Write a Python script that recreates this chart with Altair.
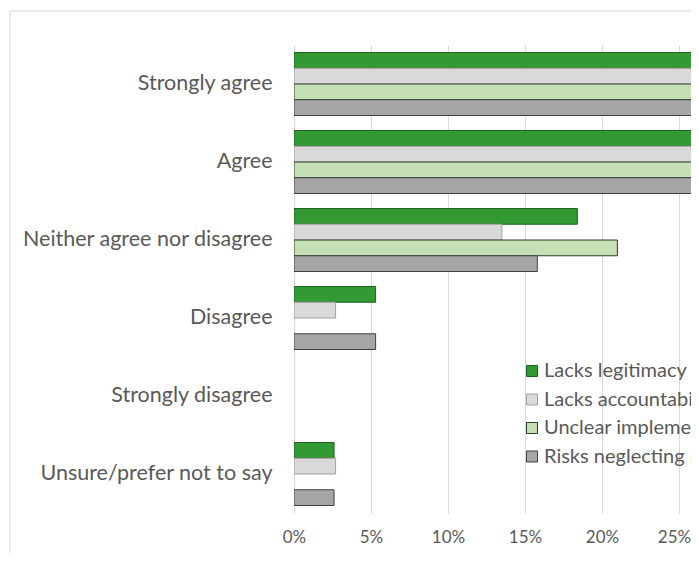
import altair as alt
import pandas as pd

categories = ["Strongly agree", "Agree", "Neither agree nor disagree",
              "Disagree", "Strongly disagree", "Unsure/prefer not to say"]
series = ["Lacks legitimacy", "Lacks accountability",
          "Unclear implementation", "Risks neglecting rural areas"]
lacks_legitimacy = [39.5, 34.2, 18.4, 5.3, 0.0, 2.6]
lacks_accountability = [43.2, 37.8, 13.5, 2.7, 0.0, 2.7]
unclear_implementation = [39.5, 39.5, 21.0, 0.0, 0.0, 0.0]
risks_neglecting = [42.1, 34.2, 15.8, 5.3, 0.0, 2.6]
x_ticks = [0, 5, 10, 15, 20, 25]

fills = ["#339933", "#d9d9d9", "#c5e0b4", "#a6a6a6"]
strokes = ["#1f5f1f", "#a0a0a0", "#2b3f2b", "#404040"]

rows = []
for s, vals in zip(series, [lacks_legitimacy, lacks_accountability,
                            unclear_implementation, risks_neglecting]):
    for c, v in zip(categories, vals):
        rows.append({"category": c, "series": s, "value": v})
df = pd.DataFrame(rows)

FONT = "Lato"
TXT = "#595959"

legend_opts = dict(title=None, orient="none", legendX=228, legendY=316,
                   symbolType="square", symbolSize=121, symbolStrokeWidth=1,
                   labelFontSize=20, labelColor=TXT, labelFont=FONT,
                   rowPadding=8.5, labelOffset=2, padding=0, labelLimit=600)

bars = alt.Chart(df).transform_filter("datum.value > 0").mark_bar(
    clip=True, strokeWidth=1
).encode(
    y=alt.Y("category:N", sort=categories,
            scale=alt.Scale(domain=categories, paddingInner=0.192, paddingOuter=0.096),
            axis=alt.Axis(title=None, ticks=False, domain=False, labelPadding=22,
                          labelFontSize=21.5, labelColor=TXT, labelFont=FONT,
                          labelLimit=400, grid=False)),
    yOffset=alt.YOffset("series:N", sort=series, scale=alt.Scale(domain=series)),
    x=alt.X("value:Q", scale=alt.Scale(domain=[0, 25.78], nice=False, zero=True),
            axis=alt.Axis(title=None, values=x_ticks, labelExpr="datum.value + '%'",
                          grid=True, gridColor="#d9d9d9", gridWidth=1,
                          ticks=False, domain=False, labelPadding=16,
                          labelFlush=False, labelFontSize=17, labelColor=TXT,
                          labelFont=FONT,
                          labelOffset={"condition": {"test": "datum.value === 25",
                                                     "value": -5},
                                       "value": 0})),
    fill=alt.Fill("series:N", sort=series,
                  scale=alt.Scale(domain=series, range=fills),
                  legend=alt.Legend(**legend_opts)),
    stroke=alt.Stroke("series:N", sort=series,
                      scale=alt.Scale(domain=series, range=strokes),
                      legend=alt.Legend(**legend_opts)),
)

frame_data = alt.Data(values=[{"k": 1}])
frame_top = alt.Chart(frame_data).mark_rule(color="#d9d9d9", strokeWidth=1).encode(
    x=alt.value(-284), x2=alt.value(700), y=alt.value(-34))
frame_left = alt.Chart(frame_data).mark_rule(color="#d9d9d9", strokeWidth=1).encode(
    x=alt.value(-284), y=alt.value(-34), y2=alt.value(700))

chart = alt.layer(frame_top, frame_left, bars).properties(
    width=397, height=468,
    padding={"left": 286, "top": 37, "right": 0, "bottom": 40},
    autosize=alt.AutoSizeParams(type="none"),
    background="white",
).configure_view(stroke=None)

chart.save("out.html", embed_options={"renderer": "svg", "actions": False})
